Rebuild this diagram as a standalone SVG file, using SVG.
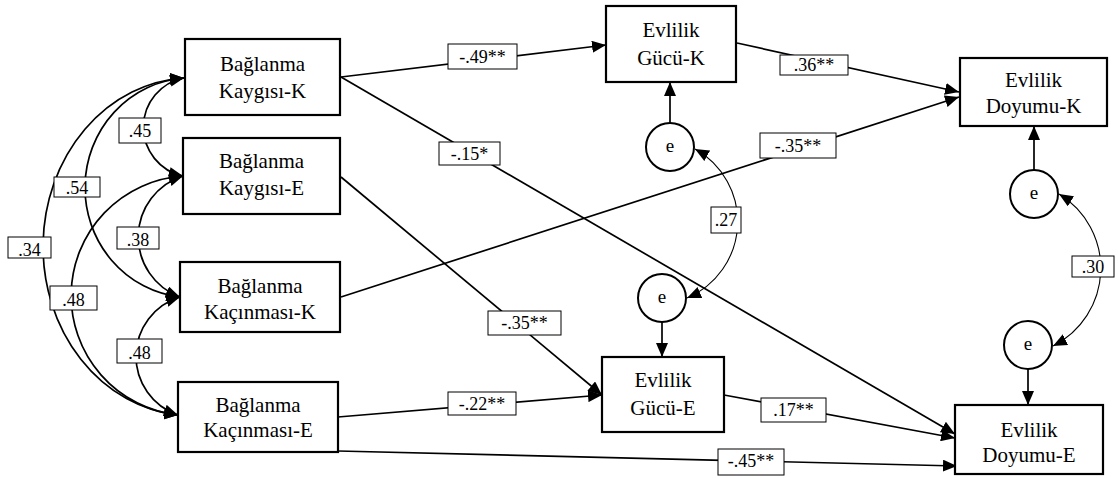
<svg xmlns="http://www.w3.org/2000/svg" width="1118" height="478" viewBox="0 0 1118 478" font-family="'Liberation Serif', 'DejaVu Serif', serif">
<style>
.box{fill:#fff;stroke:#000;stroke-width:2.2}
.circ{fill:#fff;stroke:#000;stroke-width:2}
.t{font-family:'Liberation Serif','DejaVu Serif',serif;font-size:21px;text-anchor:middle;fill:#000}
.e{font-family:'Liberation Serif','DejaVu Serif',serif;font-size:19px;text-anchor:middle;fill:#000}
.lb{fill:#fff;stroke:#000;stroke-width:1}
.lt{font-family:'Liberation Serif','DejaVu Serif',serif;font-size:18px;text-anchor:middle;fill:#000}
.ln{fill:none;stroke:#000;stroke-width:1.7;marker-end:url(#ah)}
.cv{fill:none;stroke:#000;stroke-width:1.7;marker-start:url(#ah);marker-end:url(#ah)}
.cve{fill:none;stroke:#000;stroke-width:1.1;marker-start:url(#ah);marker-end:url(#ah)}
</style>
<defs>
<marker id="ah" markerUnits="userSpaceOnUse" markerWidth="14" markerHeight="12" viewBox="0 0 14 12" refX="14" refY="6" orient="auto-start-reverse">
<path d="M0,0 L14,6 L0,12 z" fill="#000"/>
</marker>
</defs>
<rect width="1118" height="478" fill="#fff"/>
<g id="connectors">
<path class="cv" d="M184,78 A50,50 0 0 0 183,176"/>
<path class="cv" d="M184,78 A107,110 0 0 0 180,297"/>
<path class="cv" d="M184,78 A149,169 0 0 0 178,415"/>
<path class="cv" d="M183,176 A64,64 0 0 0 180,297"/>
<path class="cv" d="M183,176 A120,120 0 0 0 178,415"/>
<path class="cv" d="M180,297 A62,62 0 0 0 178,415"/>
<path class="ln" d="M341,77 L606,45"/>
<path class="ln" d="M341,77 L955,434"/>
<path class="ln" d="M341,177 L602,395"/>
<path class="ln" d="M341,297 L959,97"/>
<path class="ln" d="M737,43 L959,92"/>
<path class="ln" d="M338,417 L602,395"/>
<path class="ln" d="M724,395 L955,438"/>
<path class="ln" d="M338,451 L957,466"/>
<path class="ln" d="M670,123 L670,82"/>
<path class="ln" d="M662,322 L662,357"/>
<path class="ln" d="M1034,170 L1034,126"/>
<path class="ln" d="M1028,369 L1028,405"/>
<path class="cve" d="M695,149 A83,83 0 0 1 687,298"/>
<path class="cve" d="M1059,194 A87,87 0 0 1 1053,346"/>
</g>
<g id="labels">
<rect class="lb" x="119" y="118" width="42" height="25"/><text class="lt" x="140" y="137">.45</text>
<rect class="lb" x="54" y="177" width="46" height="20"/><text class="lt" x="77" y="194">.54</text>
<rect class="lb" x="8" y="237" width="43" height="21"/><text class="lt" x="29.5" y="256">.34</text>
<rect class="lb" x="117" y="227" width="42" height="22"/><text class="lt" x="138" y="246">.38</text>
<rect class="lb" x="50" y="286" width="47" height="24"/><text class="lt" x="73.5" y="306">.48</text>
<rect class="lb" x="117" y="339" width="45" height="24"/><text class="lt" x="139.5" y="359">.48</text>
<rect class="lb" x="448" y="44" width="69" height="25"/><text class="lt" x="482.5" y="63">-.49**</text>
<rect class="lb" x="439" y="142" width="61" height="23"/><text class="lt" x="469.5" y="160">-.15*</text>
<rect class="lb" x="488" y="311" width="73" height="24"/><text class="lt" x="524.5" y="329">-.35**</text>
<rect class="lb" x="760" y="133" width="76" height="25"/><text class="lt" x="798" y="152">-.35**</text>
<rect class="lb" x="780" y="55" width="68" height="20"/><text class="lt" x="814" y="71">.36**</text>
<rect class="lb" x="711" y="207" width="30" height="26"/><text class="lt" x="726" y="226">.27</text>
<rect class="lb" x="1072" y="256" width="42" height="21"/><text class="lt" x="1093" y="273">.30</text>
<rect class="lb" x="448" y="392" width="68" height="23"/><text class="lt" x="482" y="410">-.22**</text>
<rect class="lb" x="761" y="398" width="65" height="24"/><text class="lt" x="793.5" y="416">.17**</text>
<rect class="lb" x="718" y="449" width="66" height="26"/><text class="lt" x="751" y="467">-.45**</text>
</g>
<g id="bkk"><rect class="box" x="185" y="39" width="155" height="76"/><text class="t" x="262.5" y="71">Bağlanma</text><text class="t" x="262.5" y="98">Kaygısı-K</text></g>
<g id="bke"><rect class="box" x="183" y="138" width="157" height="76"/><text class="t" x="261.5" y="168">Bağlanma</text><text class="t" x="261.5" y="195">Kaygısı-E</text></g>
<g id="bck"><rect class="box" x="180" y="262" width="160" height="70"/><text class="t" x="260" y="293">Bağlanma</text><text class="t" x="260" y="318.5">Kaçınması-K</text></g>
<g id="bce"><rect class="box" x="178" y="382" width="160" height="70"/><text class="t" x="258" y="412">Bağlanma</text><text class="t" x="258" y="437">Kaçınması-E</text></g>
<g id="gk"><rect class="box" x="606" y="6" width="130" height="76"/><text class="t" x="671" y="37">Evlilik</text><text class="t" x="671" y="65">Gücü-K</text></g>
<g id="ge"><rect class="box" x="602" y="357" width="122" height="75"/><text class="t" x="663" y="387">Evlilik</text><text class="t" x="663" y="415">Gücü-E</text></g>
<g id="dk"><rect class="box" x="960" y="58" width="147" height="68"/><text class="t" x="1033.5" y="87">Evlilik</text><text class="t" x="1033.5" y="113">Doyumu-K</text></g>
<g id="de"><rect class="box" x="955" y="405" width="148" height="69"/><text class="t" x="1029" y="437">Evlilik</text><text class="t" x="1029" y="462">Doyumu-E</text></g>
<g id="e1"><circle class="circ" cx="670" cy="147" r="24"/><text class="e" x="670" y="152">e</text></g>
<g id="e2"><circle class="circ" cx="662" cy="298" r="24"/><text class="e" x="662" y="303">e</text></g>
<g id="e3"><circle class="circ" cx="1034" cy="194" r="24"/><text class="e" x="1034" y="199">e</text></g>
<g id="e4"><circle class="circ" cx="1028" cy="345" r="24"/><text class="e" x="1028" y="350">e</text></g>
</svg>
